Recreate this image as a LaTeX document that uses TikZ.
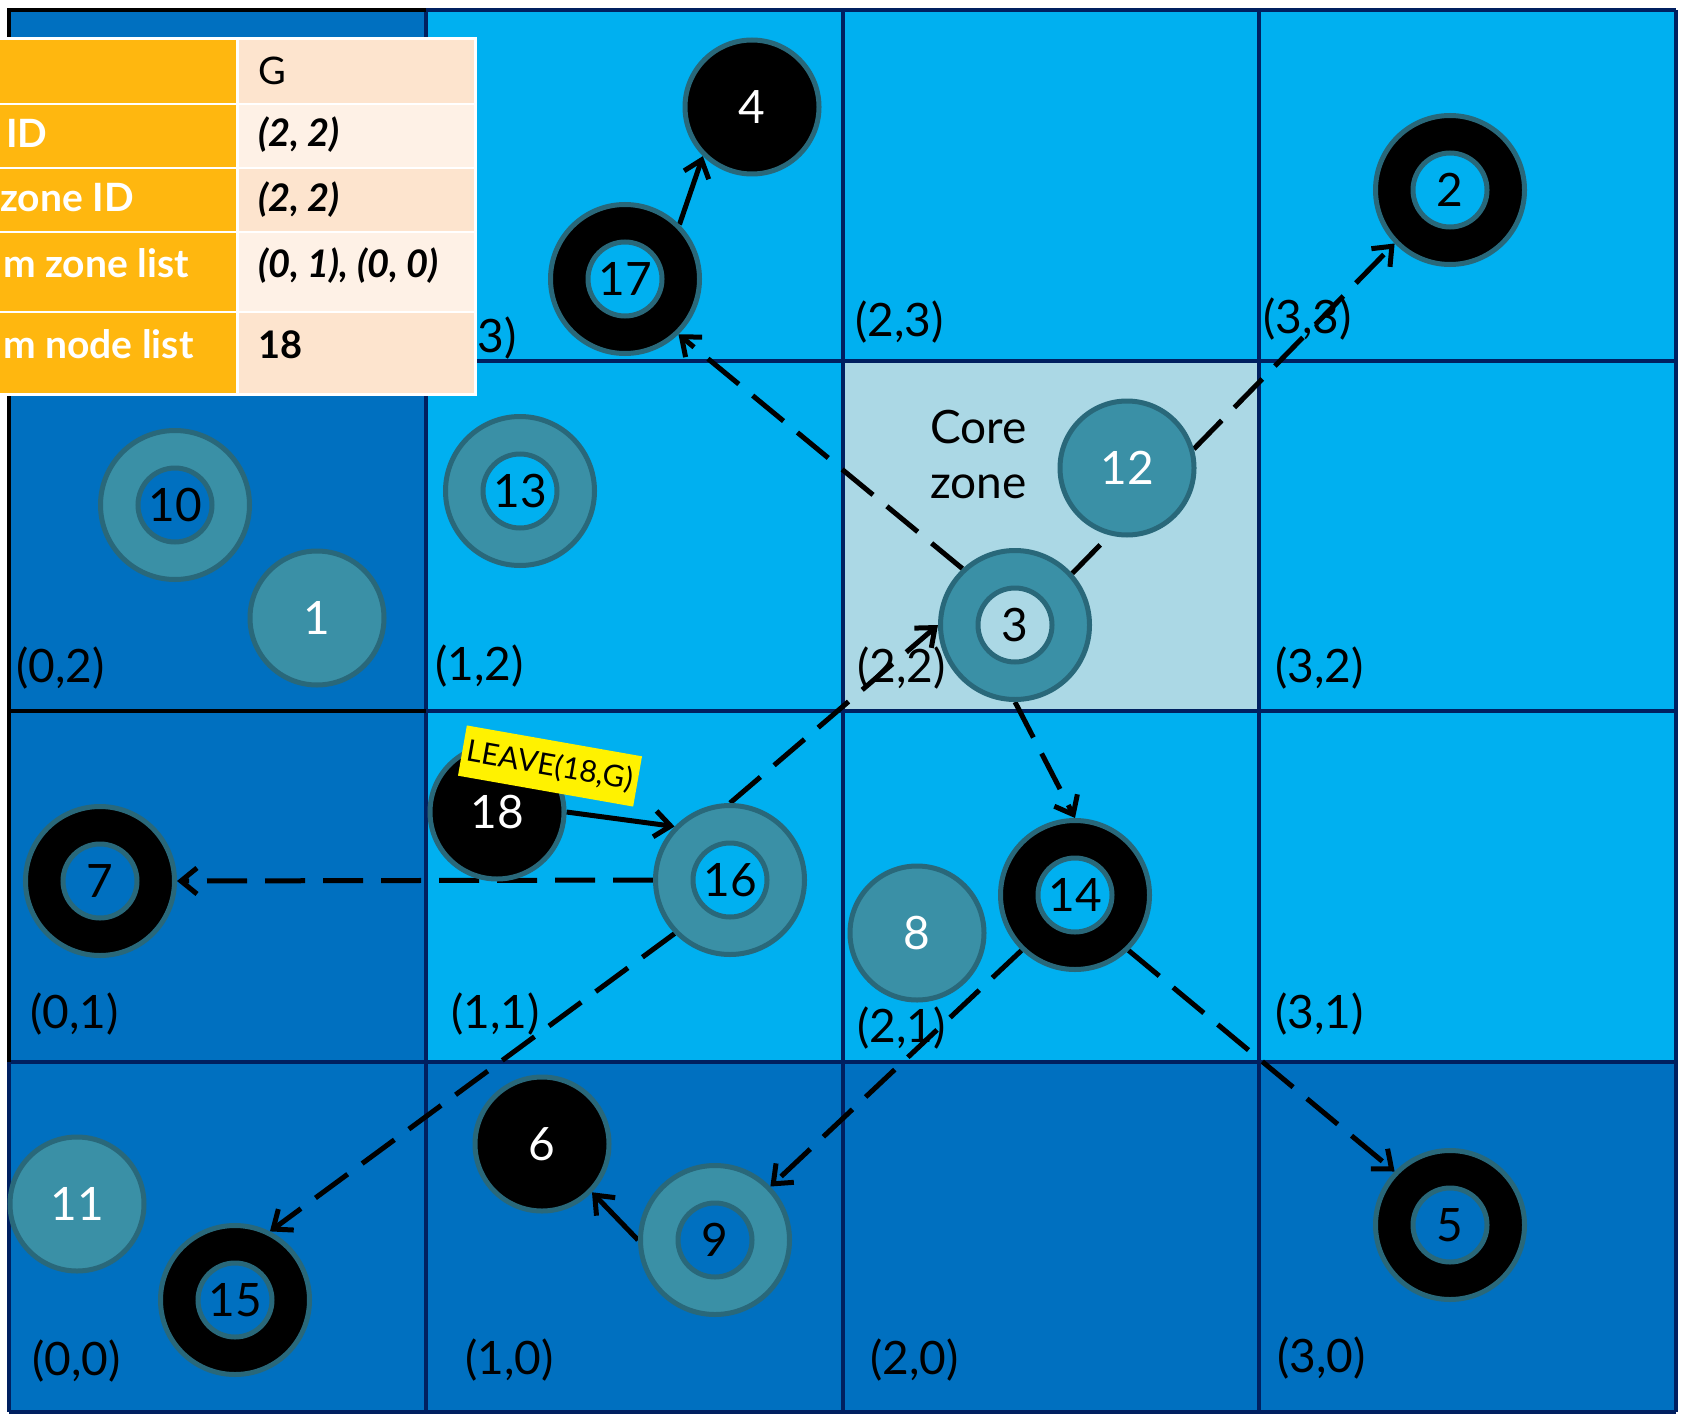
\documentclass[tikz,border=0pt]{standalone}
\usepackage{fontspec}
\setmainfont{Lato}
\usetikzlibrary{arrows.meta}
\definecolor{deep}{RGB}{0, 112, 192}
\definecolor{sky}{RGB}{0, 176, 240}
\definecolor{pale}{RGB}{171, 216, 229}
\definecolor{navy}{RGB}{0, 32, 96}
\definecolor{rim}{RGB}{41, 104, 122}
\definecolor{tealfill}{RGB}{58, 144, 166}
\definecolor{amber}{RGB}{255, 183, 15}
\definecolor{peach}{RGB}{253, 228, 206}
\definecolor{cream}{RGB}{254, 241, 230}
\pgfdeclarelayer{cells}
\pgfdeclarelayer{links}
\pgfsetlayers{cells,links,main}

\begin{document}
\begin{tikzpicture}[
   x=1pt, y=-1pt,
   nodebase/.style={circle, draw=rim, line width=5, inner sep=0,
                    font=\fontsize{46}{55}\selectfont},
   blackring/.style={nodebase, fill=black, minimum size=149},
   tealring/.style={nodebase, fill=tealfill, minimum size=149},
   blackdot/.style={nodebase, fill=black, text=white, minimum size=134},
   tealdot/.style={nodebase, fill=tealfill, text=white, minimum size=134},
   hole/.style={nodebase, minimum size=74},
   zonelbl/.style={anchor=base west, inner sep=0, font=\fontsize{46}{55}\selectfont},
   keytxt/.style={anchor=base west, inner sep=0, text=white,
                  font=\fontsize{39}{46}\selectfont\bfseries},
   valtxt/.style={anchor=base west, inner sep=0, font=\fontsize{38}{46}\selectfont},
   leavetag/.style={fill=yellow, rotate=-10, inner xsep=5, minimum height=51,
                    font=\fontsize{30}{36}\selectfont},
   hop/.style={->, >={Straight Barb[length=16pt, width=26pt]}, line width=5}
  ]

  \useasboundingbox (0,0) rectangle (1685,1415);

  % Zone grid
  \pgfmathsetmacro{\cw}{416.75}
  \pgfmathsetmacro{\ch}{350.5}

  \begin{pgfonlayer}{cells}
    \fill[white] (0,0) rectangle (1685,1415);
    \foreach \i/\j/\c in {0/0/deep, 1/0/deep, 2/0/deep, 3/0/deep,
                          0/1/deep, 1/1/sky, 2/1/sky, 3/1/sky,
                          0/2/deep, 1/2/sky, 2/2/pale, 3/2/sky,
                          0/3/deep, 1/3/sky, 2/3/sky, 3/3/sky} {
      \fill[\c] (9 + \i * \cw, 1412 - \j * \ch) rectangle (9 + \i * \cw + \cw, 1412 - \j * \ch - \ch);
    }
    \foreach \k in {0,...,4} {
      \draw[navy, line width=4] (9 + \k * \cw, 10) -- (9 + \k * \cw, 1412);
      \draw[navy, line width=4] (9, 10 + \k * \ch) -- (1676, 10 + \k * \ch);
    }
    \draw[black, line width=4] (9, 1062) -- (9, 10) -- (426, 10);
    \draw[black, line width=4] (9, 711) -- (426, 711);

    % zone ids
    \node[zonelbl] (z13) at (428, 352) {(1,3)};
    \node[zonelbl] (z23) at (855, 336) {(2,3)};
    \node[zonelbl] (z33) at (1263, 333) {(3,3)};
    \node[zonelbl] (z02) at (16, 682) {(0,2)};
    \node[zonelbl] (z12) at (435, 680) {(1,2)};
    \node[zonelbl] (z22) at (857, 682) {(2,2)};
    \node[zonelbl] (z32) at (1275, 682) {(3,2)};
    \node[zonelbl] (z01) at (30, 1028) {(0,1)};
    \node[zonelbl] (z11) at (451, 1028) {(1,1)};
    \node[zonelbl] (z21) at (857, 1042) {(2,1)};
    \node[zonelbl] (z31) at (1275, 1028) {(3,1)};
    \node[zonelbl] (z00) at (32, 1375) {(0,0)};
    \node[zonelbl] (z10) at (465, 1374) {(1,0)};
    \node[zonelbl] (z20) at (870, 1374) {(2,0)};
    \node[zonelbl] (z30) at (1277, 1372) {(3,0)};

    \node[zonelbl, align=left] (core) at (930, 498) {Core\\zone};
  \end{pgfonlayer}

  % Sensor nodes
  \node (n4) at (752, 107) [blackdot] {4};
  \node (n17) at (625, 279) [blackring] {};
  \node (n17i) at (n17) [hole, fill=sky] {17};
  \node (n2) at (1450, 190) [blackring] {};
  \node (n2i) at (n2) [hole, fill=sky] {2};

  \node (n10) at (175, 505) [tealring] {};
  \node (n10i) at (n10) [hole, fill=deep] {10};
  \node (n1) at (317, 618) [tealdot] {1};
  \node (n13) at (520, 491) [tealring] {};
  \node (n13i) at (n13) [hole, fill=sky] {13};
  \node (n12) at (1127, 468) [tealdot] {12};
  \node (n3) at (1015, 625) [tealring] {};
  \node (n3i) at (n3) [hole, fill=pale] {3};

  \node (n7) at (100, 881) [blackring] {};
  \node (n7i) at (n7) [hole, fill=deep] {7};
  \node (n18) at (497, 812) [blackdot] {18};
  \node (n16) at (730, 880) [tealring] {};
  \node (n16i) at (n16) [hole, fill=sky] {16};
  \node (n8) at (917, 933) [tealdot] {8};
  \node (n14) at (1075, 895) [blackring] {};
  \node (n14i) at (n14) [hole, fill=sky] {14};

  \node (n11) at (77, 1204) [tealdot] {11};
  \node (n15) at (235, 1300) [blackring] {};
  \node (n15i) at (n15) [hole, fill=deep] {15};
  \node (n6) at (542, 1144) [blackdot] {6};
  \node (n9) at (715, 1240) [tealring] {};
  \node (n9i) at (n9) [hole, fill=deep] {9};
  \node (n5) at (1450, 1225) [blackring] {};
  \node (n5i) at (n5) [hole, fill=deep] {5};

  \begin{pgfonlayer}{links}
    \foreach \B/\E in {n17.45/n4.225, n18.east/n16.136, n9.west/n6.316} {
      \draw[hop] (\B) -- (\E);
    }
    \foreach \B/\E in {n3.133/n17.314, n3.42/n2.224, n16.north/n3.west, n16.west/n7.east,
                       n16.224/n15.63, n3.south/n14.north, n14.226/n9.44, n14.314/n5.136} {
      \draw[hop, dash pattern=on 40pt off 18pt] (\B) -- (\E);
    }
  \end{pgfonlayer}

  \node (leave) at (550, 766) [leavetag] {LEAVE(18,G)};

  % Group table
  \fill[white] (0,37) rectangle (477,396);
  \foreach \ya/\yb/\c in {40/103/peach, 105/167/cream, 169/231/peach, 233/311/cream, 313/393/peach} {
    \fill[amber] (0,\ya) rectangle (236,\yb);
    \fill[\c] (239,\ya) rectangle (474,\yb);
  }
  \node[keytxt] (k2) at (6, 148) {ID};
  \node[keytxt] (k3) at (0, 212) {zone ID};
  \node[keytxt] (k4) at (3, 277) {m zone list};
  \node[keytxt] (k5) at (3, 358) {m node list};
  \node[valtxt] (v1) at (258, 85) {G};
  \node[valtxt, font=\fontsize{38}{46}\selectfont\bfseries\itshape] (v2) at (258, 147) {(2, 2)};
  \node[valtxt, font=\fontsize{38}{46}\selectfont\bfseries\itshape] (v3) at (258, 212) {(2, 2)};
  \node[valtxt, font=\fontsize{38}{46}\selectfont\bfseries\itshape] (v4) at (258, 277) {(0, 1), (0, 0)};
  \node[valtxt, font=\fontsize{38}{46}\selectfont\bfseries] (v5) at (258, 358) {18};

\end{tikzpicture}
\end{document}
